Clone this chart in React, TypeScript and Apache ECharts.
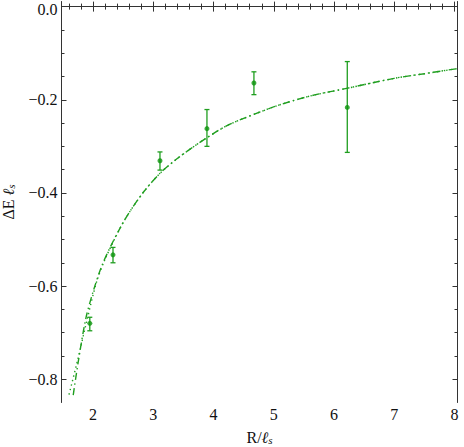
import React, { useEffect, useRef } from "react";
import * as echarts from "echarts";

const xTicks = [2, 3, 4, 5, 6, 7, 8];
const xMinorTicks = [1.6, 1.8, 2.2, 2.4, 2.6, 2.8, 3.2, 3.4, 3.6, 3.8, 4.2, 4.4, 4.6, 4.8, 5.2, 5.4, 5.6, 5.8, 6.2, 6.4, 6.6, 6.8, 7.2, 7.4, 7.6, 7.8];
const yTicks = [-0.8, -0.6, -0.4, -0.2, 0];
const yMinorTicks = [-0.75, -0.7, -0.65, -0.55, -0.5, -0.45, -0.35, -0.3, -0.25, -0.15, -0.1, -0.05];

const pointX = [1.945, 2.33, 3.11, 3.89, 4.67, 6.22];
const pointY = [-0.68, -0.533, -0.331, -0.262, -0.164, -0.2165];
const errLow = [-0.696, -0.55, -0.351, -0.3, -0.189, -0.313];
const errHigh = [-0.667, -0.517, -0.312, -0.221, -0.14, -0.118];

const dashDotX = [1.67, 1.75, 1.88, 2.0, 2.14, 2.29, 2.45, 2.61, 2.85, 3.11, 3.36, 3.61, 3.86, 4.2, 4.5, 5.05, 5.6, 6.23, 7.0, 7.5, 8.05];
const dashDotY = [-0.834, -0.765, -0.669, -0.612, -0.558, -0.515, -0.475, -0.44, -0.396, -0.358, -0.33, -0.306, -0.284, -0.257, -0.24, -0.213, -0.192, -0.175, -0.154, -0.144, -0.133];

const dottedX = [1.6, 1.75, 1.9, 2.06, 2.2, 2.45, 2.61, 2.85, 3.11, 3.36, 3.61, 3.86, 4.2, 4.5, 5.05, 5.6, 6.23, 7.0, 7.5, 8.05];
const dottedY = [-0.833, -0.755, -0.672, -0.59, -0.542, -0.475, -0.44, -0.396, -0.358, -0.33, -0.306, -0.284, -0.257, -0.24, -0.213, -0.192, -0.175, -0.154, -0.144, -0.133];

const FONT = "'Liberation Serif', 'Times New Roman', serif";
const AXIS_COLOR = "#333333";
const LINE_COLOR = "#1f9e1f";
const POINT_COLOR = "#0b930b";
const TEXT_COLOR = "#111111";
const FS = 16;

const X_MIN = 1.475;
const X_MAX = 8.05;
const Y_MIN = -0.85;
const Y_MAX = 0.011;

function fmtY(v: number) {
  const s = Math.abs(v).toFixed(1);
  return v < -1e-9 ? "\u2212" + s : s;
}

// labels drawn by the axis (the top one, at the frame edge, is placed as a graphic text)
const yAxisLabelValues = yTicks.filter((v) => v < Y_MAX - 0.05);
const yEdgeLabelValues = yTicks.filter((v) => v >= Y_MAX - 0.05);

const richName = {
  a: { fontFamily: FONT, fontSize: FS, color: TEXT_COLOR, lineHeight: 16 },
  l: { fontFamily: FONT, fontSize: FS, fontStyle: "italic", color: TEXT_COLOR, lineHeight: 16 },
  s: { fontFamily: FONT, fontSize: 11, fontStyle: "italic", color: TEXT_COLOR, lineHeight: 11, padding: [5, 0, 0, 0] },
};

function xAxisCfg(position: "bottom" | "top", major: boolean, withLabels: boolean) {
  return {
    type: "value",
    position,
    min: X_MIN,
    max: X_MAX,
    axisLine: { show: major, lineStyle: { color: AXIS_COLOR, width: 1 } },
    axisTick: {
      show: true,
      inside: true,
      length: major ? 5 : 3,
      customValues: major ? xTicks : xMinorTicks,
      lineStyle: { color: AXIS_COLOR, width: 1 },
    },
    axisLabel: withLabels
      ? {
          show: true,
          customValues: xTicks,
          margin: 5,
          color: TEXT_COLOR,
          fontFamily: FONT,
          fontSize: FS,
          lineHeight: 14,
          formatter: (v: number) => String(v),
        }
      : { show: false },
    splitLine: { show: false },
    ...(withLabels
      ? {
          name: "{a|R/}{l|ℓ}{s|s}",
          nameLocation: "middle",
          nameGap: 27,
          nameTextStyle: { fontFamily: FONT, fontSize: FS, color: TEXT_COLOR, rich: richName },
        }
      : {}),
  };
}

function yAxisCfg(position: "left" | "right", major: boolean, withLabels: boolean) {
  return {
    type: "value",
    position,
    min: Y_MIN,
    max: Y_MAX,
    axisLine: { show: major, lineStyle: { color: AXIS_COLOR, width: 1 } },
    axisTick: {
      show: true,
      inside: true,
      length: major ? 5 : 3,
      customValues: major ? yTicks : yMinorTicks,
      lineStyle: { color: AXIS_COLOR, width: 1 },
    },
    axisLabel: withLabels
      ? {
          show: true,
          customValues: yAxisLabelValues,
          margin: 4,
          color: TEXT_COLOR,
          fontFamily: FONT,
          fontSize: FS,
          lineHeight: 12,
          formatter: (v: number) => fmtY(v),
        }
      : { show: false },
    splitLine: { show: false },
    ...(withLabels
      ? {
          name: "{a|ΔE }{l|ℓ}{s|s}",
          nameLocation: "middle",
          nameGap: 45,
          nameRotate: 90,
          nameTextStyle: { fontFamily: FONT, fontSize: FS, color: TEXT_COLOR, rich: richName },
        }
      : {}),
  };
}

export default function App() {
  const ref = useRef<HTMLDivElement>(null);

  useEffect(() => {
    if (!ref.current) return;
    const chart = echarts.init(ref.current, null, { renderer: "svg" });

    const dashDotData = dashDotX.map((x, i) => [x, dashDotY[i]]);
    const dottedData = dottedX.map((x, i) => [x, dottedY[i]]);
    const pointData = pointX.map((x, i) => [x, pointY[i]]);
    const errData = pointX.map((x, i) => [x, errLow[i], errHigh[i]]);

    chart.setOption({
      animation: false,
      backgroundColor: "#ffffff",
      grid: {
        left: 61.5,
        right: 6.5,
        top: 1.5,
        bottom: 44.5,
        containLabel: false,
        outerBoundsMode: "none",
      },
      xAxis: [
        xAxisCfg("bottom", true, true),
        xAxisCfg("bottom", false, false),
        xAxisCfg("top", true, false),
        xAxisCfg("top", false, false),
      ],
      yAxis: [
        yAxisCfg("left", true, true),
        yAxisCfg("left", false, false),
        yAxisCfg("right", true, false),
        yAxisCfg("right", false, false),
      ],
      series: [
        {
          type: "line",
          data: dottedData,
          showSymbol: false,
          smooth: 0.3,
          lineStyle: { color: LINE_COLOR, width: 1.4, type: [1.4, 3.2] },
          z: 2,
        },
        {
          type: "line",
          data: dashDotData,
          showSymbol: false,
          smooth: 0.3,
          lineStyle: { color: LINE_COLOR, width: 1.4, type: [7, 3.5, 1.4, 3.5] },
          z: 2,
        },
        {
          type: "custom",
          data: errData,
          encode: { x: 0, y: [1, 2] },
          renderItem: (params: any, api: any) => {
            const x = api.value(0);
            const lo = api.coord([x, api.value(1)]);
            const hi = api.coord([x, api.value(2)]);
            const w = 2.5;
            const style = { stroke: LINE_COLOR, lineWidth: 1.3 };
            return {
              type: "group",
              children: [
                { type: "line", shape: { x1: lo[0], y1: lo[1], x2: hi[0], y2: hi[1] }, style },
                { type: "line", shape: { x1: lo[0] - w, y1: lo[1], x2: lo[0] + w, y2: lo[1] }, style },
                { type: "line", shape: { x1: hi[0] - w, y1: hi[1], x2: hi[0] + w, y2: hi[1] }, style },
              ],
            };
          },
          z: 3,
        },
        {
          type: "scatter",
          data: pointData,
          symbol: "circle",
          symbolSize: 5,
          itemStyle: { color: POINT_COLOR },
          z: 4,
        },
      ],
    });

    // place the top-edge tick label just inside the page so it is not clipped
    const placeEdgeLabels = () => {
      const items = yEdgeLabelValues.map((v) => {
        const p = chart.convertToPixel({ xAxisIndex: 0, yAxisIndex: 0 }, [X_MIN, v]) as number[];
        return {
          type: "text",
          x: p[0] - 4,
          y: Math.max(p[1], 9.5),
          style: {
            text: fmtY(v),
            fontFamily: FONT,
            fontSize: FS,
            fill: TEXT_COLOR,
            align: "right",
            verticalAlign: "middle",
          },
        };
      });
      chart.setOption({ graphic: items });
    };
    placeEdgeLabels();

    return () => chart.dispose();
  }, []);

  return <div ref={ref} style={{ width: 464, height: 447, position: "absolute", left: 0, top: 0 }} />;
}
